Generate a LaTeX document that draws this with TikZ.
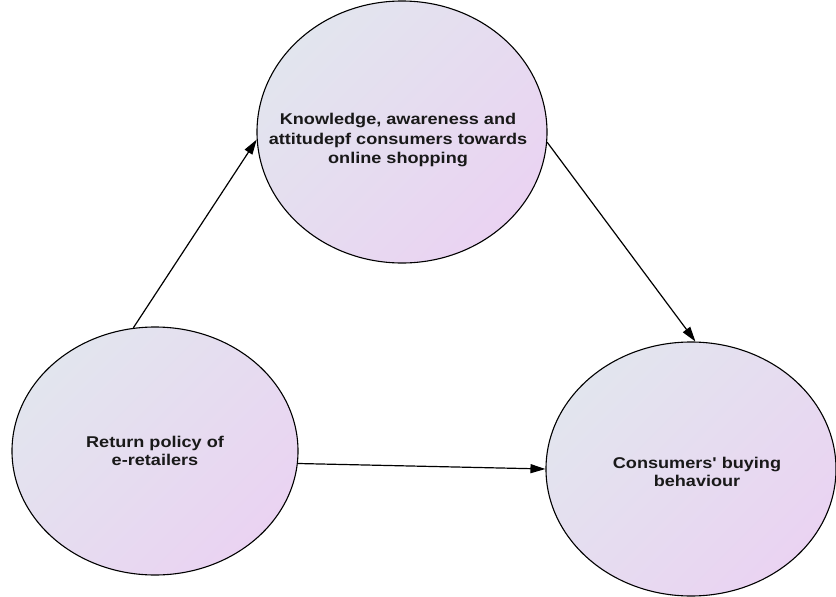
\documentclass[tikz,border=0pt]{standalone}
\usepackage{fontspec}
\newfontfamily\lbl[FakeStretch=1.16]{Liberation Sans}
\usetikzlibrary{shapes.geometric,arrows.meta}
\definecolor{cA}{HTML}{E2E5EE}
\definecolor{cB}{HTML}{EAD3F2}
\tikzset{
  x=1pt,y=1pt,
  oval/.style={ellipse,draw=black,line width=1.1pt,inner sep=0pt,
    top color=cA,bottom color=cB,shading angle=45},
  lbl/.style={font=\lbl\bfseries\fontsize{15.6}{#1}\selectfont,align=center,text=black!90},
  link/.style={line width=1.2pt,-{Triangle[length=15pt,width=9pt]}}
}
\begin{document}
\begin{tikzpicture}
\useasboundingbox (0,0) rectangle (836,-597);
\node[oval,minimum width=290,minimum height=262] (T) at (402,-132) {};
\node[oval,minimum width=286,minimum height=248] (L) at (155,-451) {};
\node[oval,minimum width=290,minimum height=254] (R) at (691,-469) {};
\node[lbl=19.5] (Tt) at (398,-140) {Knowledge, awareness and\\attitudepf consumers towards\\online shopping};
\node[lbl=17.5] (Lt) at (155,-451) {Return policy of\\e-retailers};
\node[lbl=18.5] (Rt) at (697,-472) {Consumers' buying\\behaviour};
\draw[link] (L.100) -- (T.183.5);
\draw[link] (T.-4.5) -- (R.88);
\draw[link] (L.-5) -- (R.180);
\end{tikzpicture}
\end{document}
